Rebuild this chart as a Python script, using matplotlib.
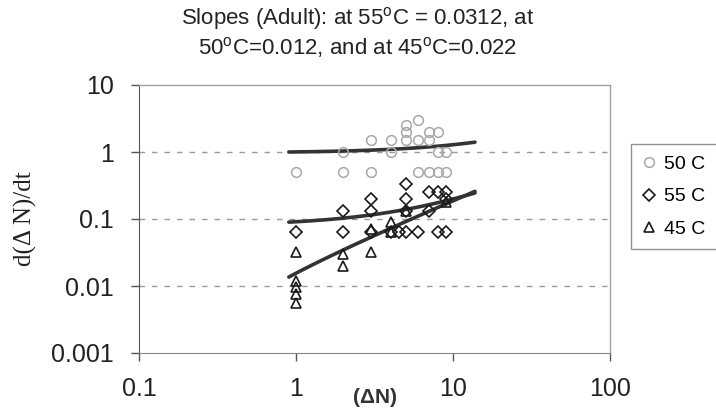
import numpy as np
import matplotlib

matplotlib.use("Agg")
import matplotlib.pyplot as plt
from matplotlib.ticker import FixedLocator, FuncFormatter, NullLocator

# --- data ---
x_50 = [1, 2, 2, 3, 3, 4, 4, 5, 5, 5, 6, 6, 6, 7, 7, 7, 8, 8, 8, 9, 9]
y_50 = [0.5, 1, 0.5, 1.5, 0.5, 1.5, 1, 2.5, 2, 1.5, 3, 1.5, 0.5, 2, 1.5, 0.5, 2, 1, 0.5, 1, 0.5]

x_55 = [1, 2, 2, 3, 3, 3, 4, 4.5, 5, 5, 5, 5, 6, 7, 7, 8, 8, 9, 9, 9]
y_55 = [0.065, 0.13, 0.065, 0.2, 0.13, 0.065, 0.065, 0.065, 0.33, 0.2, 0.13, 0.065,
        0.065, 0.25, 0.13, 0.25, 0.065, 0.25, 0.2, 0.065]

x_45 = [1, 1, 1, 1, 1, 2, 2, 3, 3, 4, 4, 5, 9]
y_45 = [0.032, 0.012, 0.0095, 0.0075, 0.0055, 0.03, 0.02, 0.032, 0.07, 0.09, 0.065, 0.13, 0.18]

# linear trendlines (y = slope * x + intercept), shown on log axes
trend_names = ["50 C", "55 C", "45 C"]
trend_slope = [0.0312, 0.012, 0.019]
trend_intercept = [0.972, 0.079, -0.0035]
trend_range = (0.9, 13.8)

x_ticks = [0.1, 1, 10, 100]
y_ticks = [0.001, 0.01, 0.1, 1, 10]

plt.rcParams["font.family"] = ["Liberation Sans", "DejaVu Sans"]
plt.rcParams["mathtext.fontset"] = "custom"
plt.rcParams["mathtext.rm"] = "Liberation Sans"

fig = plt.figure(figsize=(7.16, 4.17), dpi=100)
ax = fig.add_axes([139 / 716, 1 - 353 / 417, (610 - 139) / 716, (353 - 85) / 417])

ax.set_xscale("log")
ax.set_yscale("log")
ax.set_xlim(0.1, 100)
ax.set_ylim(0.001, 10)

# gridlines
for yv in [0.01, 0.1, 1]:
    ax.axhline(yv, color="#9a9a9a", lw=1, ls=(0, (4, 5)), zorder=0)

# trendlines
xs = np.geomspace(*trend_range, 60)
for slope, icpt in zip(trend_slope, trend_intercept):
    ax.plot(xs, slope * xs + icpt, color="#333333", lw=2.6, zorder=2,
            solid_capstyle="round")

h50, = ax.plot(x_50, y_50, "o", ms=7, mfc="none", mec="#a8a8a8", mew=1.1,
               label="50 C", zorder=3)
h55, = ax.plot(x_55, y_55, "D", ms=5.8, mfc="none", mec="#1a1a1a", mew=1.2,
               label="55 C", zorder=3)
h45, = ax.plot(x_45, y_45, "^", ms=7, mfc="none", mec="#1a1a1a", mew=1.2,
               label="45 C", zorder=3)

# ticks
ax.xaxis.set_major_locator(FixedLocator(x_ticks))
ax.yaxis.set_major_locator(FixedLocator(y_ticks))
ax.xaxis.set_minor_locator(NullLocator())
ax.yaxis.set_minor_locator(NullLocator())
fmt = FuncFormatter(lambda v, p: "%g" % v)
ax.xaxis.set_major_formatter(fmt)
ax.yaxis.set_major_formatter(fmt)
ax.tick_params(axis="both", direction="out", length=6, width=1, colors="#555555",
               labelsize=18, labelcolor="#222222")
ax.tick_params(axis="x", pad=11)
ax.tick_params(axis="y", pad=12)

for side in ["top", "right"]:
    ax.spines[side].set_color("#a0a0a0")
    ax.spines[side].set_linestyle((0, (2, 1)))
    ax.spines[side].set_linewidth(1)
ax.spines["left"].set_color("#555555")
ax.spines["bottom"].set_color("#888888")

ax.set_xlabel("(ΔN)", fontsize=15, fontweight="bold", color="#333333", labelpad=-9)
ax.set_ylabel("d(Δ N)/dt", fontsize=18, family="Liberation Serif", color="#222222",
              labelpad=10)

fig.text(0.5, 0.955, "Slopes (Adult): at 55$^{\\rm o}$C = 0.0312, at",
         ha="center", va="center", fontsize=16, color="#222222")
fig.text(0.5, 0.885, "50$^{\\rm o}$C=0.012, and at 45$^{\\rm o}$C=0.022",
         ha="center", va="center", fontsize=16, color="#222222")

leg = fig.legend(handles=[h50, h55, h45], loc="upper left",
                 bbox_to_anchor=(631 / 716, 1 - 144 / 417), fontsize=14,
                 frameon=True, fancybox=False, handlelength=0.6, handletextpad=0.5,
                 borderpad=0.6, labelspacing=0.75, borderaxespad=0)
leg.get_frame().set_edgecolor("#777777")
leg.get_frame().set_linewidth(1)

fig.savefig("out.png", dpi=100)
